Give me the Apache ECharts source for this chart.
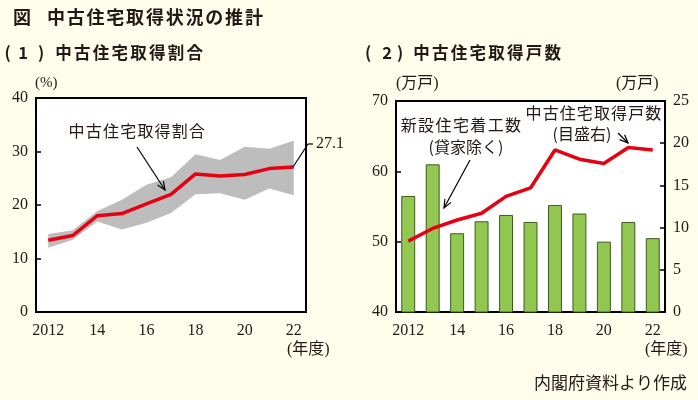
<!DOCTYPE html>
<html><head><meta charset="utf-8">
<script src="https://cdn.jsdelivr.net/npm/echarts@6/dist/echarts.min.js"></script>
<style>html,body{margin:0;padding:0;background:#FFFDEB;}#c{width:698px;height:400px;}</style>
</head><body><div id="c"></div>
<script>
// ---- data ----
const years = ['2012','13','14','15','16','17','18','19','20','21','22'];
const shareRatio = [13.4,14.3,18.0,18.4,20.2,22.0,25.8,25.4,25.7,26.8,27.1];
const shareUpper = [14.6,15.3,18.9,21.0,23.8,25.2,29.5,28.4,30.9,30.5,32.0];
const shareLower = [12.0,13.5,16.9,15.4,16.7,18.5,22.0,22.2,21.0,23.1,21.8];
const newStarts = [56.5,61.0,51.2,52.9,53.8,52.8,55.2,54.0,50.0,52.8,50.5];
const usedUnits = [8.4,9.9,10.9,11.7,13.7,14.7,19.2,18.1,17.6,19.5,19.2];
const leftTicks = [0,10,20,30,40];
const rightLeftTicks = [40,50,60,70];
const rightRightTicks = [0,5,10,15,20,25];

const serif = "'Liberation Serif','Noto Sans CJK JP',serif";
const sans = "'Noto Sans CJK JP',sans-serif";
const txt = '#231815';
const bandDiff = shareUpper.map((v,i)=>+(v-shareLower[i]).toFixed(2));

function xAxis(gi){
  return {type:'category',gridIndex:gi,data:years,boundaryGap:true,
    axisLine:{show:false},axisTick:{show:false},
    axisLabel:{interval:1,color:txt,fontFamily:serif,fontSize:16,margin:11}};
}
function yAxis(gi,ticks,pos){
  return {type:'value',gridIndex:gi,position:pos||'left',min:ticks[0],max:ticks[ticks.length-1],
    interval:ticks[1]-ticks[0],splitLine:{show:false},axisLine:{show:false},
    axisTick:{show:true,inside:true,length:5,lineStyle:{color:'#000',width:1.5}},
    axisLabel:{color:txt,fontFamily:serif,fontSize:16,margin:8}};
}
function arrow(x1,y1,x2,y2){
  const a=Math.atan2(y2-y1,x2-x1), L=9, s=0.4;
  return [
    {type:'line',shape:{x1,y1,x2,y2},style:{stroke:'#000',lineWidth:1.2},z:100},
    {type:'polyline',shape:{points:[[x2-L*Math.cos(a-s),y2-L*Math.sin(a-s)],[x2,y2],[x2-L*Math.cos(a+s),y2-L*Math.sin(a+s)]]},style:{stroke:'#000',lineWidth:1.2,fill:null},z:100}
  ];
}
function t(x,y,text,opt){
  return Object.assign({type:'text',x,y,z:100,style:Object.assign({text,fill:txt,font:'14px '+serif,textVerticalAlign:'middle'},opt||{})});
}
// spaced text: characters laid out with a fixed advance
function sp(x,y,str,adv,font){
  return Array.from(str).map((ch,i)=>t(x+i*adv+adv/2,y,ch,{font,textAlign:'center'}));
}
const tfont='bold 18px '+sans, sfont='bold 16.5px '+sans, afont='16px '+sans;

const chart = echarts.init(document.getElementById('c'));
chart.setOption({
  backgroundColor:'#FFFDEB',
  animation:false,
  grid:[
    {left:36,top:98,width:270,height:214,show:true,backgroundColor:'#fff',borderColor:'#000',borderWidth:2,z:0},
    {left:396,top:101,width:269,height:211,show:true,backgroundColor:'#fff',borderColor:'#000',borderWidth:2,z:0}
  ],
  xAxis:[xAxis(0),xAxis(1)],
  yAxis:[yAxis(0,leftTicks),yAxis(1,rightLeftTicks,'left'),yAxis(1,rightRightTicks,'right')],
  series:[
    {type:'line',xAxisIndex:0,yAxisIndex:0,data:shareLower,stack:'band',symbol:'none',lineStyle:{opacity:0},silent:true},
    {type:'line',xAxisIndex:0,yAxisIndex:0,data:bandDiff,stack:'band',symbol:'none',lineStyle:{opacity:0},areaStyle:{color:'#BDBDBD',opacity:1},silent:true},
    {type:'line',xAxisIndex:0,yAxisIndex:0,data:shareRatio,symbol:'none',lineStyle:{color:'#E60012',width:3.5},z:5},
    {type:'bar',xAxisIndex:1,yAxisIndex:1,data:newStarts,barWidth:'57%',clip:true,itemStyle:{color:'#92C851',borderColor:'#3d5a1e',borderWidth:1}},
    {type:'line',xAxisIndex:1,yAxisIndex:2,data:usedUnits,symbol:'none',lineStyle:{color:'#E60012',width:3.5},z:5}
  ],
  graphic:[
    t(13,17,'図',{font:tfont}),
    ...sp(46,17,'中古住宅取得状況の推計',19.8,tfont),
    t(7.5,53,'(',{font:sfont,textAlign:'center'}),
    t(23,53,'1',{font:sfont,textAlign:'center'}),
    t(41,53,')',{font:sfont,textAlign:'center'}),
    ...sp(54,53,'中古住宅取得割合',18.75,sfont),
    t(368,53,'(',{font:sfont,textAlign:'center'}),
    t(387,53,'2',{font:sfont,textAlign:'center'}),
    t(400,53,')',{font:sfont,textAlign:'center'}),
    ...sp(412,53,'中古住宅取得戸数',18.75,sfont),
    t(35,83,'(%)',{font:'15px '+serif}),
    t(396,84,'(万戸)',{font:'16px '+serif}),
    t(616,84,'(万戸)',{font:'16px '+serif}),
    t(287,350,'(年度)',{font:'16px '+serif}),
    t(645,350,'(年度)',{font:'16px '+serif}),
    ...sp(68,131,'中古住宅取得割合',17.2,afont),
    ...arrow(137,147,165,190),
    {type:'line',shape:{x1:293,y1:167,x2:308,y2:144},style:{stroke:'#000',lineWidth:1.2},z:100},
    {type:'line',shape:{x1:308,y1:144,x2:313,y2:144},style:{stroke:'#000',lineWidth:1.2},z:100},
    t(316,144,'27.1',{font:'16px '+serif}),
    ...sp(400,125,'新設住宅着工数',17.4,afont),
    t(466,147,'(貸家除く)',{font:afont,textAlign:'center'}),
    ...arrow(470,160,444,208),
    ...sp(525,113,'中古住宅取得戸数',17.1,afont),
    t(582,134,'(目盛右)',{font:afont,textAlign:'center'}),
    ...arrow(618,133,628,143),
    t(687,383,'内閣府資料より作成',{font:'17px '+sans,textAlign:'right'})
  ]
});
</script></body></html>
